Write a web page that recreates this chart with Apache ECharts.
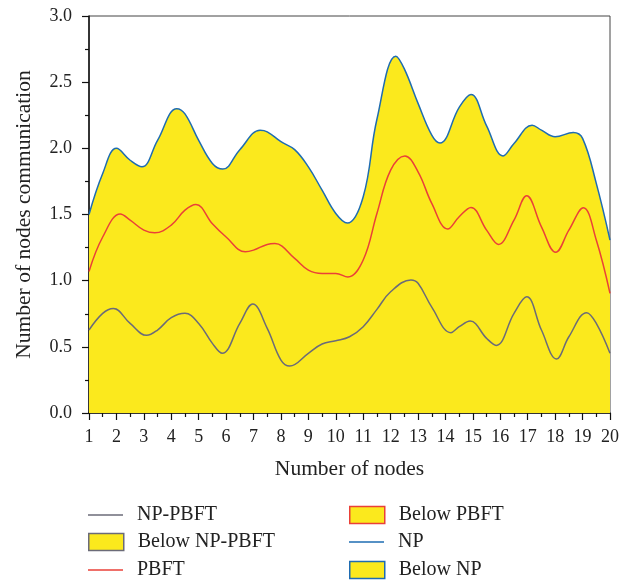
<!DOCTYPE html>
<html>
<head>
<meta charset="utf-8">
<script src="https://cdn.jsdelivr.net/npm/echarts@6/dist/echarts.min.js"></script>
<style>html,body{margin:0;padding:0;background:#fff;}#c{width:634px;height:584px;}</style>
</head>
<body>
<div id="c"></div>
<script>
// Data (x = number of nodes, y = communication)
var npX   = [1, 1.5, 2.0, 2.5, 2.93, 3.5, 4.2, 4.5, 5.0, 5.5, 5.88, 6.5, 7.24, 7.5, 8.0, 8.5, 9.0, 9.5, 10.0, 10.42, 11.0, 11.5, 12.19, 12.5, 13.0, 13.5, 13.8, 14.5, 14.93, 15.5, 16.1, 16.5, 17.16, 17.5, 18.0, 18.66, 19.0, 19.5, 20];
var npY   = [1.50, 1.81, 2.00, 1.91, 1.86, 2.06, 2.30, 2.26, 2.06, 1.886, 1.843, 1.99, 2.137, 2.125, 2.05, 1.99, 1.86, 1.684, 1.508, 1.435, 1.634, 2.22, 2.696, 2.60, 2.34, 2.10, 2.04, 2.31, 2.407, 2.17, 1.943, 2.037, 2.175, 2.137, 2.087, 2.12, 2.075, 1.735, 1.307];
var pbftX = [1, 1.5, 2.14, 2.5, 3.0, 3.4, 4.0, 4.5, 4.9, 5.5, 6.0, 6.7, 7.0, 7.5, 7.78, 8.5, 9.0, 9.5, 10.0, 10.44, 11.0, 11.5, 12.0, 12.52, 13.0, 13.5, 14.08, 14.5, 14.93, 15.5, 15.93, 16.5, 16.96, 17.5, 18.02, 18.5, 19.03, 19.5, 20];
var pbftY = [1.07, 1.33, 1.503, 1.458, 1.382, 1.362, 1.42, 1.533, 1.576, 1.43, 1.33, 1.218, 1.231, 1.274, 1.28, 1.168, 1.08, 1.055, 1.055, 1.028, 1.156, 1.508, 1.835, 1.943, 1.823, 1.584, 1.39, 1.483, 1.553, 1.382, 1.274, 1.458, 1.641, 1.407, 1.214, 1.382, 1.551, 1.307, 0.904];
var npPbftX = [1, 1.5, 1.89, 2.5, 3.1, 3.5, 4.0, 4.5, 5.0, 5.5, 5.86, 6.5, 6.97, 7.5, 8.0, 8.32, 9.0, 9.5, 10.0, 10.5, 11.0, 11.5, 12.0, 12.74, 13.0, 13.5, 14.2, 14.5, 14.9, 15.5, 15.85, 16.5, 16.96, 17.5, 18.05, 18.5, 19.15, 19.5, 20];
var npPbftY = [0.627, 0.753, 0.79, 0.677, 0.587, 0.627, 0.72, 0.753, 0.677, 0.526, 0.451, 0.677, 0.823, 0.64, 0.40, 0.355, 0.451, 0.521, 0.546, 0.576, 0.652, 0.783, 0.916, 1.005, 0.98, 0.80, 0.607, 0.652, 0.695, 0.564, 0.511, 0.753, 0.878, 0.627, 0.408, 0.576, 0.758, 0.677, 0.451];
var seriesNames = ['NP-PBFT', 'Below NP-PBFT', 'PBFT', 'Below PBFT', 'NP', 'Below NP'];

function pairs(xs, ys) { return xs.map(function (x, i) { return [x, ys[i]]; }); }

var YELLOW = '#FBE91D', GRAY = '#6B6B78', RED = '#EA4038', BLUE = '#1E6CB2';
var FONT = 'Liberation Serif';
var SMOOTH = 0.4;

var chart = echarts.init(document.getElementById('c'));
function areaSeries(name, data, z) {
  return { name: name, type: 'line', data: data, smooth: SMOOTH, symbol: 'none', z: z,
    lineStyle: { width: 0, opacity: 0 }, itemStyle: { color: YELLOW },
    areaStyle: { color: YELLOW, opacity: 1 } };
}
function lineSeries(name, data, color) {
  return { name: name, type: 'line', data: data, smooth: SMOOTH, symbol: 'none', z: 5,
    lineStyle: { width: 1.5, color: color }, itemStyle: { color: color } };
}
function legendItem(name, left, top, isBox, color) {
  return {
    left: left, top: top, padding: 0, itemWidth: 35, itemHeight: isBox ? 17 : 1.5,
    textStyle: { fontFamily: FONT, fontSize: 20, color: '#222', padding: [0, 0, 0, 9] },
    data: [{ name: name, icon: 'rect',
      itemStyle: isBox ? { color: YELLOW, borderColor: color, borderWidth: 1.5 } : { color: color, borderWidth: 0 } }]
  };
}
chart.setOption({
  animation: false,
  backgroundColor: '#fff',
  textStyle: { fontFamily: FONT },
  grid: { left: 89, right: 24, top: 16, bottom: 171, show: true, borderColor: '#444', borderWidth: 1, backgroundColor: 'transparent' },
  legend: [
    legendItem(seriesNames[0], 88, 505, false, GRAY),
    legendItem(seriesNames[1], 88, 532, true, GRAY),
    legendItem(seriesNames[2], 88, 560, false, RED),
    legendItem(seriesNames[3], 349, 505, true, RED),
    legendItem(seriesNames[4], 349, 532, false, BLUE),
    legendItem(seriesNames[5], 349, 560, true, BLUE)
  ],
  xAxis: {
    type: 'value', min: 1, max: 20, interval: 1,
    name: 'Number of nodes', nameLocation: 'middle', nameGap: 45,
    nameTextStyle: { fontFamily: FONT, fontSize: 21.5, color: '#222' },
    axisLine: { show: true, lineStyle: { color: '#111', width: 1.5 } },
    axisTick: { show: true, length: 7, lineStyle: { color: '#111', width: 1.2 } },
    minorTick: { show: true, splitNumber: 2, length: 4, lineStyle: { color: '#111', width: 1.2 } },
    axisLabel: { fontFamily: FONT, fontSize: 18, color: '#222', margin: 15 },
    splitLine: { show: false }
  },
  yAxis: {
    type: 'value', min: 0, max: 3, interval: 0.5,
    name: 'Number of nodes communication', nameLocation: 'middle', nameGap: 54,
    nameTextStyle: { fontFamily: FONT, fontSize: 21.5, color: '#222' },
    axisLine: { show: true, lineStyle: { color: '#111', width: 1.5 } },
    axisTick: { show: true, length: 7, lineStyle: { color: '#111', width: 1.2 } },
    minorTick: { show: true, splitNumber: 2, length: 4, lineStyle: { color: '#111', width: 1.2 } },
    axisLabel: { fontFamily: FONT, fontSize: 18, color: '#222', margin: 17, formatter: function (v) { return v.toFixed(1); } },
    splitLine: { show: false }
  },
  series: [
    areaSeries(seriesNames[5], pairs(npX, npY), 1),
    areaSeries(seriesNames[3], pairs(pbftX, pbftY), 2),
    areaSeries(seriesNames[1], pairs(npPbftX, npPbftY), 3),
    lineSeries(seriesNames[0], pairs(npPbftX, npPbftY), GRAY),
    lineSeries(seriesNames[2], pairs(pbftX, pbftY), RED),
    lineSeries(seriesNames[4], pairs(npX, npY), BLUE)
  ]
});
</script>
</body>
</html>
